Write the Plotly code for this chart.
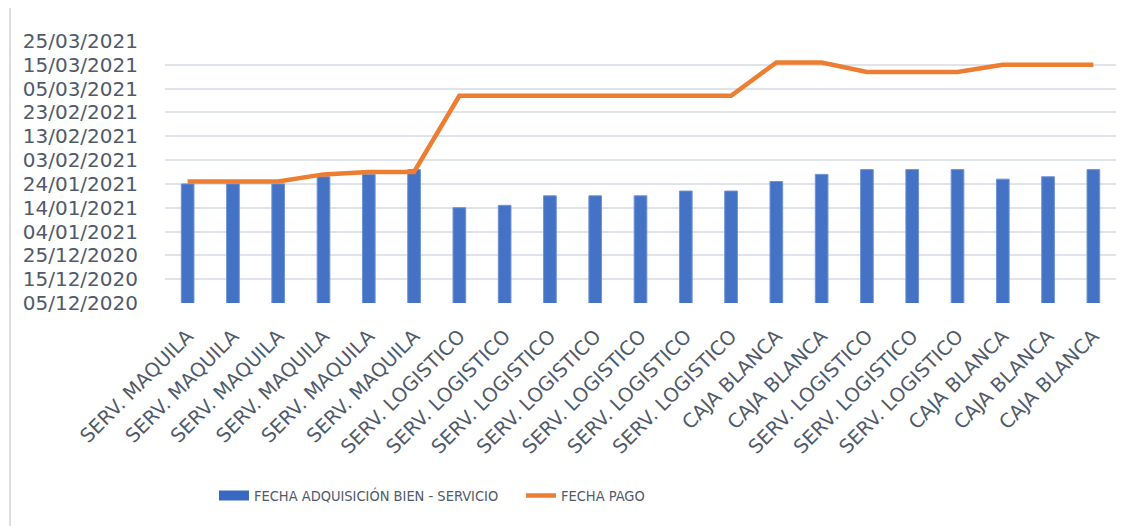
import plotly.graph_objects as go

categories = [
    "SERV. MAQUILA", "SERV. MAQUILA", "SERV. MAQUILA", "SERV. MAQUILA", "SERV. MAQUILA", "SERV. MAQUILA",
    "SERV. LOGISTICO", "SERV. LOGISTICO", "SERV. LOGISTICO", "SERV. LOGISTICO", "SERV. LOGISTICO",
    "SERV. LOGISTICO", "SERV. LOGISTICO",
    "CAJA BLANCA", "CAJA BLANCA",
    "SERV. LOGISTICO", "SERV. LOGISTICO", "SERV. LOGISTICO",
    "CAJA BLANCA", "CAJA BLANCA", "CAJA BLANCA",
]

fecha_adquisicion = [
    "2021-01-24", "2021-01-24", "2021-01-24", "2021-01-27", "2021-01-28", "2021-01-30",
    "2021-01-14", "2021-01-15", "2021-01-19", "2021-01-19", "2021-01-19", "2021-01-21", "2021-01-21",
    "2021-01-25", "2021-01-28",
    "2021-01-30", "2021-01-30", "2021-01-30",
    "2021-01-26", "2021-01-27", "2021-01-30",
]

fecha_pago = [
    "2021-01-25", "2021-01-25", "2021-01-25", "2021-01-28", "2021-01-29", "2021-01-29",
    "2021-03-02", "2021-03-02", "2021-03-02", "2021-03-02", "2021-03-02", "2021-03-02", "2021-03-02",
    "2021-03-16", "2021-03-16",
    "2021-03-12", "2021-03-12", "2021-03-12",
    "2021-03-15", "2021-03-15", "2021-03-15",
]

y_start = "2020-12-05"
y_end = "2021-03-25"

label_bar = "FECHA ADQUISICIÓN BIEN - SERVICIO"
label_line = "FECHA PAGO"

BLUE = "#4472C4"
ORANGE = "#ED7D31"
TEXT = "#505a6a"
GRID = "#dfe3ea"

idx = list(range(len(categories)))

fig = go.Figure()
fig.add_trace(go.Bar(
    x=idx, y=fecha_adquisicion, width=0.28,
    marker=dict(color=BLUE, line=dict(color="#6f93d6", width=1)),
    showlegend=False, name=label_bar,
))
fig.add_trace(go.Scatter(
    x=idx, y=fecha_pago, mode="lines",
    line=dict(color=ORANGE, width=4.5),
    showlegend=False, name=label_line,
))
# legend entries
fig.add_trace(go.Scatter(
    x=[None], y=[None], mode="lines", name=label_bar,
    line=dict(color="#3a67c2", width=10),
))
fig.add_trace(go.Scatter(
    x=[None], y=[None], mode="lines", name=label_line,
    line=dict(color=ORANGE, width=4.5),
))

fig.update_layout(
    width=1144, height=526,
    margin=dict(l=157, r=36, t=33, b=231, autoexpand=False),
    paper_bgcolor="white", plot_bgcolor="white",
    showlegend=True,
    legend=dict(
        orientation="h", x=0.0515, xanchor="left", y=-0.735, yanchor="middle",
        font=dict(family="DejaVu Sans Condensed, sans-serif", size=14.5, color=TEXT),
        itemwidth=30, entrywidth=262,
    ),
    xaxis=dict(
        tickmode="array", tickvals=idx, ticktext=categories,
        tickangle=-45, range=[-0.5, len(categories) - 0.5],
        showgrid=False, zeroline=False, showline=False, ticks="",
        ticklabelstandoff=17, automargin=False,
        tickfont=dict(family="DejaVu Sans, sans-serif", size=19.5, color=TEXT),
    ),
    yaxis=dict(
        type="date", range=[y_start, y_end],
        tick0=y_start, dtick=10 * 86400000, tickformat="%d/%m/%Y",
        showgrid=True, gridcolor=GRID, gridwidth=2,
        zeroline=False, showline=False, ticks="",
        ticklabelstandoff=26, automargin=False,
        tickfont=dict(family="DejaVu Sans, sans-serif", size=20, color=TEXT),
    ),
    shapes=[dict(type="line", xref="paper", yref="paper",
                 x0=(2 - 157) / 951, x1=(2 - 157) / 951, y0=-1.0, y1=1.2,
                 line=dict(color="#d9dde3", width=2))],
)

fig.write_html("out.html")
